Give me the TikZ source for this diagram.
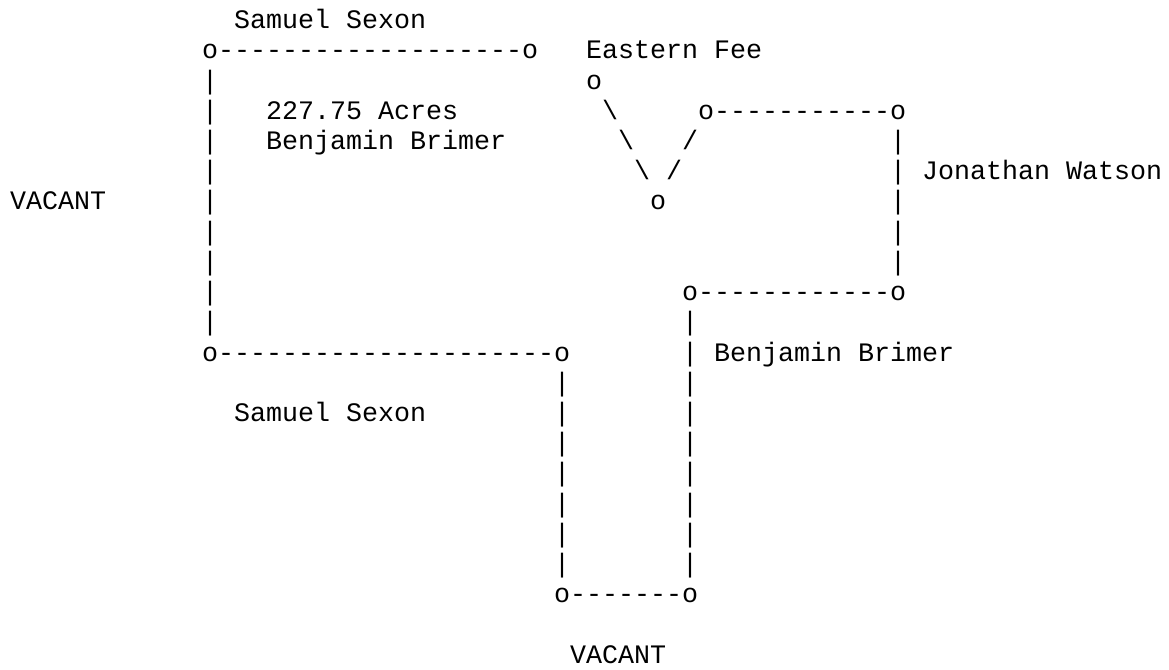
\documentclass[tikz,border=0pt]{standalone}
\usepackage{fontspec}
\setmonofont{Liberation Mono}
\tikzset{glyphs/.style={inner sep=0pt, outer sep=0pt, anchor=base west, font=\fontsize{26.67pt}{30pt}\selectfont\ttfamily}}
\begin{document}
\begin{tikzpicture}[x=1pt, y=-1pt]
	\useasboundingbox (0,0) rectangle (1169,669);
	\def\labels {14/0/Samuel Sexon, 36/1/Eastern Fee, 16/3/227.75 Acres, 16/4/Benjamin Brimer, 57/5/Jonathan Watson, 0/6/VACANT, 44/11/Benjamin Brimer, 14/13/Samuel Sexon, 35/21/VACANT}  % texts
	\foreach \c/\r/\t in \labels
	{	\node[glyphs] (label-\c-\r) at ({10+16*\c},{28.6+30.22*\r}) {\t};
	}
	\def\runs {12/1/o-------------------o, 36/2/o, 43/3/o-----------o, 40/6/o, 42/9/o------------o, 12/11/o---------------------o, 34/19/o-------o}  % corners and runs
	\foreach \c/\r/\t in \runs
	{	\node[glyphs] (run-\c-\r) at ({10+16*\c},{28.6+30.22*\r}) {\t};
	}
	\def\bars {12/2, 12/3, 12/4, 12/5, 12/6, 12/7, 12/8, 12/9, 12/10, 55/4, 55/5, 55/6, 55/7, 55/8, 42/10, 42/11, 42/12, 42/13, 42/14, 42/15, 42/16, 42/17, 42/18, 34/12, 34/13, 34/14, 34/15, 34/16, 34/17, 34/18}  % upright strokes
	\foreach \c/\r in \bars
	{	\node[glyphs] (bar-\c-\r) at ({10+16*\c},{28.6+30.22*\r}) {|};
	}
	\def\backs {37/3, 38/4, 39/5}  % falling strokes
	\foreach \c/\r in \backs
	{	\node[glyphs] (back-\c-\r) at ({10+16*\c},{28.6+30.22*\r}) {\char92};
	}
	\def\fwds {42/4, 41/5}  % rising strokes
	\foreach \c/\r in \fwds
	{	\node[glyphs] (fwd-\c-\r) at ({10+16*\c},{28.6+30.22*\r}) {\char47};
	}
\end{tikzpicture}
\end{document}
